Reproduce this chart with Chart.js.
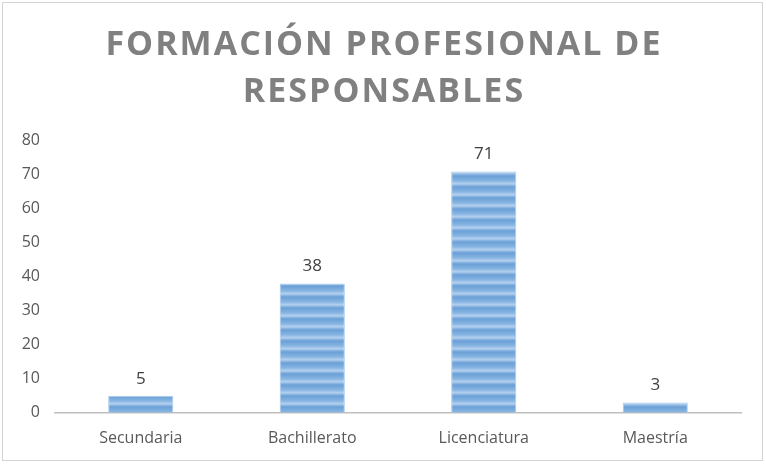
<!DOCTYPE html>
<html>
<head>
<meta charset="utf-8">
<script src="https://cdn.jsdelivr.net/npm/chart.js@4"></script>
<style>
  body { margin: 0; background: #fff; }
  #frame { position: absolute; left: 2px; top: 2px; width: 759px; height: 457px; border: 1.5px solid #d4d4d4; }
  #wrap { position: absolute; left: 0; top: 0; width: 766px; height: 465px; }
</style>
</head>
<body>
<div id="frame"></div>
<div id="wrap"><canvas id="formacionChart"></canvas></div>
<script>
const categories = ["Secundaria", "Bachillerato", "Licenciatura", "Maestría"];
const responsables = [5, 38, 71, 3];
const titleLines = ["FORMACIÓN PROFESIONAL DE", "RESPONSABLES"];

// striped fill like the Excel bar texture
function stripePattern() {
  const c = document.createElement("canvas");
  c.width = 4;
  c.height = 11;
  const g = c.getContext("2d");
  const grad = g.createLinearGradient(0, 0, 0, 11);
  grad.addColorStop(0, "#6a9fd6");
  grad.addColorStop(0.45, "#88b6e3");
  grad.addColorStop(0.7, "#b3d0ee");
  grad.addColorStop(1, "#6a9fd6");
  g.fillStyle = grad;
  g.fillRect(0, 0, 4, 11);
  return g.createPattern(c, "repeat");
}

const valueLabels = {
  id: "valueLabels",
  afterDatasetsDraw(chart) {
    const ctx = chart.ctx;
    const meta = chart.getDatasetMeta(0);
    ctx.save();
    ctx.font = "17px 'Open Sans'";
    ctx.fillStyle = "#404040";
    ctx.textAlign = "center";
    ctx.textBaseline = "middle";
    meta.data.forEach((bar, i) => {
      ctx.fillText(String(responsables[i]), bar.x, bar.y - 17);
    });
    ctx.restore();
  }
};

// the title in the reference is letter-spaced and centred on the whole frame
const spacedTitle = {
  id: "spacedTitle",
  afterLayout(chart) {
    const t = chart.titleBlock;
    if (t && !t._spaced) {
      const draw = t.draw.bind(t);
      t.draw = function () {
        const c = this.ctx;
        c.save();
        c.letterSpacing = "2px";
        c.translate(chart.width / 2 - (this.left + this.right) / 2 + 1, 0);
        draw();
        c.restore();
      };
      t._spaced = true;
    }
  }
};

document.addEventListener("DOMContentLoaded", () => {
  const ctx = document.getElementById("formacionChart").getContext("2d");

  new Chart(ctx, {
    type: "bar",
    data: {
      labels: categories,
      datasets: [{
        label: "Responsables",
        data: responsables,
        backgroundColor: stripePattern(),
        borderColor: "#a9cbeb",
        borderWidth: 1,
        categoryPercentage: 1,
        barPercentage: 0.38
      }]
    },
    options: {
      responsive: true,
      maintainAspectRatio: false,
      animation: false,
      layout: {
        padding: { left: 15, right: 25, top: 0, bottom: 1 }
      },
      plugins: {
        legend: { display: false },
        tooltip: { enabled: false },
        title: {
          display: true,
          text: titleLines,
          color: "#808080",
          font: { family: "'Open Sans'", size: 34, weight: "bold", lineHeight: 1.38 },
          padding: { top: 22, bottom: 25 }
        }
      },
      scales: {
        x: {
          grid: { display: false, drawTicks: false },
          border: { color: "#bfbfbf", width: 1.5 },
          ticks: {
            color: "#595959",
            padding: 16,
            font: { family: "'Open Sans'", size: 16 }
          }
        },
        y: {
          min: 0,
          max: 80,
          afterFit(scale) {
            scale.width = 40;
          },
          grid: { display: false, drawTicks: false },
          border: { display: false },
          ticks: {
            stepSize: 10,
            color: "#595959",
            padding: 15,
            font: { family: "'Open Sans'", size: 16 }
          }
        }
      }
    },
    plugins: [valueLabels, spacedTitle]
  });
});
</script>
</body>
</html>
